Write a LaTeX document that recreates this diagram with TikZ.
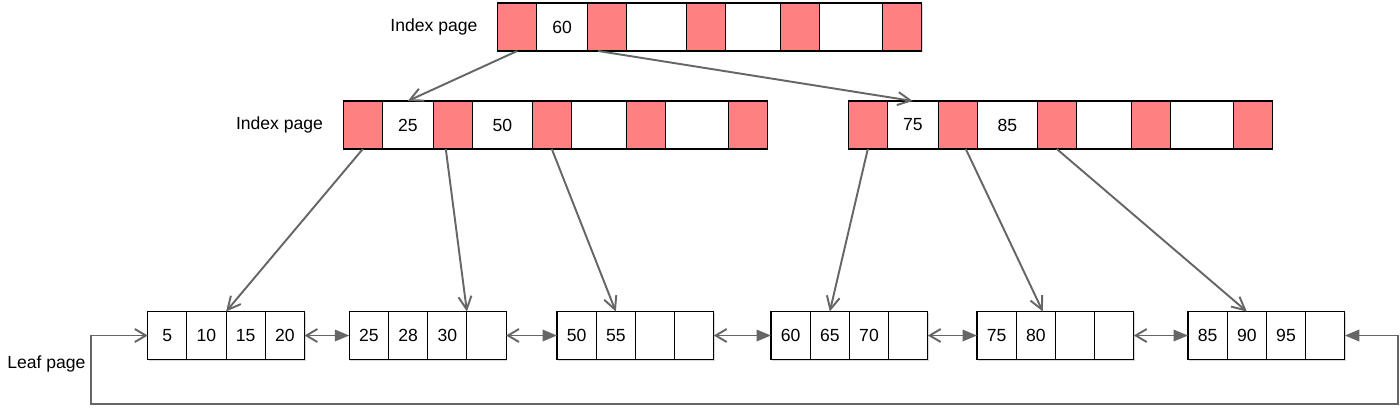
\documentclass[tikz,border=0pt]{standalone}
\usepackage{fontspec}
\setmainfont{Liberation Sans}
\usetikzlibrary{positioning,arrows.meta,shadows}

\definecolor{keyred}{RGB}{255,128,128}
\definecolor{linkgray}{RGB}{102,102,102}

% one page = a row of cells, placed left to right from (#2,#3)
\newcommand{\pagerow}[4]{%
  \coordinate (#1c0) at (#2,#3);
  \foreach \w/\f/\t [count=\i from 1, remember=\i as \j (initially 0)] in {#4}
    \node[cell, fill=\f, minimum width=\w*0.02cm, right=0pt of #1c\j] (#1c\i) {\t};
}

\begin{document}
\begin{tikzpicture}[x=0.02cm, y=-0.02cm, font=\fontsize{10}{12}\selectfont,
    cell/.style={draw, line width=0.6pt, minimum height=0.96cm, inner sep=0pt, outer sep=0pt,
      drop shadow={shadow xshift=0.6pt, shadow yshift=-0.8pt, opacity=0.3}},
    pagelabel/.style={inner sep=0pt},
    treelink/.style={draw=linkgray, line width=1.1pt, -{Straight Barb[length=2.6mm, width=2.6mm]}},
    leaflink/.style={draw=linkgray, line width=1.1pt,
      {Straight Barb[length=2.2mm, width=2.6mm]}-{Triangle[length=2.9mm, width=2.3mm]}}]

    \useasboundingbox (0,0) rectangle (1400,407);

    % --- Index pages ---
    \pagerow{top}{497.7}{27}{39/keyred/, 51/white/60, 39/keyred/, 60/white/, 39/keyred/, 55/white/, 39/keyred/, 63/white/, 39/keyred/}
    \pagerow{il}{343.3}{125}{39/keyred/, 51/white/25, 39/keyred/, 60/white/50, 39/keyred/, 55/white/, 39/keyred/, 63/white/, 39/keyred/}
    \pagerow{ir}{848.3}{125}{39/keyred/, 51/white/75, 39/keyred/, 60/white/85, 39/keyred/, 55/white/, 39/keyred/, 63/white/, 39/keyred/}

    \node[pagelabel, left=0.4cm of topc1] (lbltop) {Index page};
    \node[pagelabel, left=0.4cm of ilc1] (lblmid) {Index page};

    % --- Leaf pages ---
    \pagerow{la}{147.7}{335.5}{39.2/white/5, 39.2/white/10, 39.2/white/15, 39.2/white/20}
    \pagerow{lb}{349.3}{335.5}{39.2/white/25, 39.2/white/28, 39.2/white/30, 39.2/white/}
    \pagerow{lc}{557}{335.5}{39.2/white/50, 39.2/white/55, 39.2/white/, 39.2/white/}
    \pagerow{ld}{771}{335.5}{39.2/white/60, 39.2/white/65, 39.2/white/70, 39.2/white/}
    \pagerow{le}{977}{335.5}{39.2/white/75, 39.2/white/80, 39.2/white/, 39.2/white/}
    \pagerow{lf}{1188}{335.5}{39.2/white/85, 39.2/white/90, 39.2/white/95, 39.2/white/}

    \node[pagelabel, anchor=west] (lblleaf) at (7,364) {Leaf page};

    % --- Pointers down the tree ---
    \draw[treelink] (topc1.south) -- (ilc2.north);
    \draw[treelink] ([xshift=-0.18cm]topc3.south) -- (irc2.north);
    \draw[treelink] (ilc1.south) -- (lac2.north east);
    \draw[treelink] ([xshift=-0.14cm]ilc3.south) -- (lbc3.north east);
    \draw[treelink] (ilc5.south) -- (lcc2.north);
    \draw[treelink] (irc1.south) -- (ldc2.north);
    \draw[treelink] ([xshift=0.16cm]irc3.south) -- ([xshift=0.14cm]lec2.north);
    \draw[treelink] (irc5.south) -- (lfc2.north);

    % --- Links between leaves ---
    \draw[leaflink] (lac4.east) -- (lbc1.west);
    \draw[leaflink] (lbc4.east) -- (lcc1.west);
    \draw[leaflink] (lcc4.east) -- (ldc1.west);
    \draw[leaflink] (ldc4.east) -- (lec1.west);
    \draw[leaflink] (lec4.east) -- (lfc1.west);

    % wrap-around from last leaf to first
    \coordinate (loopl) at (91,404);
    \coordinate (loopr) at (1398,404);
    \draw[leaflink] (lac1.west) -| (loopl) -- (loopr) |- (lfc4.east);

\end{tikzpicture}
\end{document}
